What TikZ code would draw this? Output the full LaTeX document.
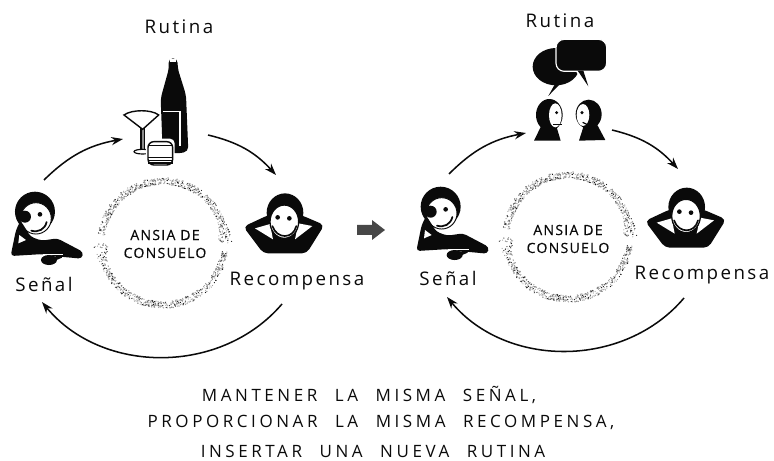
\documentclass[tikz,border=0pt]{standalone}
\usepackage{fontspec}
\setmainfont{Open Sans}
\newfontfamily\spaced[LetterSpace=13]{Open Sans}
\newfontfamily\spacedwide[LetterSpace=21,WordSpace=2.2]{Open Sans}
\newfontfamily\ringfont[LetterSpace=9,FakeBold=0.5]{Open Sans}
\usetikzlibrary{arrows.meta}
\definecolor{ink}{HTML}{0A0A0A}
\definecolor{grain}{HTML}{8C8C8C}

\tikzset{
  label/.style={font=\spaced\fontsize{16}{18}\selectfont,text=ink,inner sep=0pt},
  ringtext/.style={font=\ringfont\fontsize{12}{15.3}\selectfont,text=ink,inner sep=0pt,align=center},
  bottomtext/.style={font=\spacedwide\fontsize{14.5}{16}\selectfont,text=ink,inner sep=0pt},
  loopline/.style={draw=ink,line width=1.3pt,-{Stealth[length=10pt,width=7pt]}},
  sadperson/.pic={
    \fill[ink] (5,-15) ellipse (60 and 60);
    \fill[white,draw=ink,line width=0.8pt] (8,5) ellipse (46 and 47);
    \fill[ink] (-25,0) circle (18);
    \fill[ink] (20,-7) circle (7);
    \draw[ink,line width=1.5pt,line cap=round] (-6,42) .. controls (15,48) and (35,38) .. (40,16);
    \fill[ink,rounded corners=3pt] (-52,40) -- (-68,118) -- (30,112) -- (60,118) -- (146,126) -- (150,106) -- (72,65) -- (25,72) -- (-8,60) -- (-38,12) -- cycle;
    \fill[white] (-42,55) -- (-22,70) -- (-45,80) -- cycle;
    \draw[white,line width=1.2pt] (28,114) -- (90,114);
    \fill[ink] (47,130) ellipse (24 and 15);
    \fill[ink] (60,120) -- (86,116) -- (86,123) -- (60,134) -- cycle;
  },
  happyperson/.pic={
    \fill[ink,rounded corners=4pt] (-50,-5) -- (-125,30) -- (-65,110) -- (65,110) -- (118,25) -- (48,-5) -- cycle;
    \fill[ink] (0,-12) ellipse (55 and 58);
    \fill[white] (-90,35) -- (-45,22) -- (-36,68) -- cycle;
    \fill[white] (82,28) -- (40,20) -- (30,68) -- cycle;
    \fill[white,draw=ink,line width=1.1pt] (-2,15) ellipse (43 and 50);
    \fill[ink] (-22,2) circle (7);
    \fill[ink] (13,5) circle (7);
    \draw[ink,line width=1.4pt,line cap=round] (-38,28) .. controls (-24,68) and (24,68) .. (34,28);
  },
  drinks/.pic={
    \fill[ink,rounded corners=4pt] (505,175) -- (533,175) -- (533,205) -- (558,285) -- (565,455) -- (530,461) -- (488,455) -- (482,295) -- (507,205) -- cycle;
    \fill[white] (510,178) rectangle (528,186);
    \draw[white,line width=1pt] (490,335) -- (540,335) -- (540,438);
    \fill[white] (418,380) rectangle (443,470);
    \fill[grain] (423,385) rectangle (434,452);
    \draw[ink,line width=1.2pt,fill=white] (372,345) .. controls (395,328) and (455,328) .. (476,345) -- (428,388) -- cycle;
    \draw[ink,line width=1.2pt] (423,385) -- (423,452) (434,385) -- (434,452);
    \draw[ink,line width=1pt,fill=white] (428,455) ellipse (26 and 7);
    \fill[white,rounded corners=4pt] (438,416) rectangle (524,502);
    \draw[ink,line width=1.2pt,rounded corners=5pt] (444,425) rectangle (518,495);
    \draw[ink,line width=1.4pt] (444,436) -- (518,436) (444,472) -- (518,472) (444,481) -- (518,481) (444,489) -- (518,489);
  },
  talkers/.pic={
    \fill[ink] (468,200) ellipse (70 and 56);
    \fill[ink] (466,250) -- (445,288) -- (482,250) -- cycle;
    \fill[ink,rounded corners=7pt,draw=white,line width=1pt] (468,118) rectangle (620,214);
    \fill[ink] (533,212) -- (565,259) -- (550,212) -- cycle;
    \draw[white,line width=1pt] (531,216) -- (551,248);
    \fill[ink] (402,422) -- (425,375) -- (468,375) -- (482,422) -- cycle;
    \fill[ink] (448,345) ellipse (40 and 48);
    \fill[white] (466,346) ellipse (19 and 36);
    \fill[ink] (470,338) circle (5);
    \draw[ink,line width=1pt] (460,373) -- (486,373);
    \fill[ink] (537,422) -- (552,375) -- (592,375) -- (616,420) -- cycle;
    \fill[ink] (566,343) ellipse (39 and 44);
    \fill[white] (549,345) ellipse (19 and 33);
    \fill[ink] (546,338) circle (5);
    \draw[ink,line width=1pt] (548,367) -- (566,376);
  },
  ansiaring/.pic={
    \pgfmathsetseed{4127}
    \foreach \from/\to/\n in {187/360/620,8/180/580}{
      \foreach \k in {1,...,\n}{
        \pgfmathsetmacro{\ang}{\from+rnd*(\to-\from)}
        \pgfmathsetmacro{\band}{7+8*max(0,(\ang-\to+20)/20)}
        \pgfmathsetmacro{\rad}{62+\band*(rnd-0.5)}
        \pgfmathsetmacro{\tone}{rnd<0.3 ? 95 : 40}
        \fill[ink!\tone] (\ang:\rad) circle (0.6);
      }
    }
  }
}

\begin{document}
\begin{tikzpicture}[x=0.03cm,y=-0.03cm]
  \useasboundingbox (0,0) rectangle (774,461);

  % left loop
  \pic[scale=1/3] at (0,0) {drinks};
  \pic[scale=1/3] at (33.3,216.7) {sadperson};
  \pic[scale=1/3] at (285,216.7) {happyperson};
  \pic at (163,243) {ansiaring};
  \node[label] (rutinaa) at (179,27) {Rutina};
  \node[label] (senala) at (44,284) {Señal};
  \node[label] (recompensaa) at (297,281) {Recompensa};
  \node[ringtext] (ansiaa) at (165,244) {ANSIA DE\\CONSUELO};
  \coordinate (a1) at (44,180);
  \coordinate (a2) at (123,139);
  \coordinate (a3) at (208,135);
  \coordinate (a4) at (276,175);
  \coordinate (a5) at (282,304);
  \coordinate (a6) at (42,302);
  \draw[loopline] (a1) to[bend left=17] (a2);
  \draw[loopline] (a3) to[bend left=17] (a4);
  \draw[loopline] (a5) to[bend left=50] (a6);

  % right loop
  \pic[scale=1/3] at (400,0) {talkers};
  \pic[scale=1/3] at (439,211.7) {sadperson};
  \pic[scale=1/3] at (686.7,211) {happyperson};
  \pic at (568,237) {ansiaring};
  \node[label] (rutinab) at (560,21) {Rutina};
  \node[label] (senalb) at (448,278) {Señal};
  \node[label] (recompensab) at (702,275) {Recompensa};
  \node[ringtext] (ansiab) at (568,239) {ANSIA DE\\CONSUELO};
  \coordinate (b1) at (449,174);
  \coordinate (b2) at (526,133);
  \coordinate (b3) at (612,130);
  \coordinate (b4) at (678,169);
  \coordinate (b5) at (684,298);
  \coordinate (b6) at (447,297);
  \draw[loopline] (b1) to[bend left=17] (b2);
  \draw[loopline] (b3) to[bend left=17] (b4);
  \draw[loopline] (b5) to[bend left=50] (b6);

  % block arrow between the loops
  \fill[ink!75] (357,225) -- (372,225) -- (372,220) -- (385,230) -- (372,240) -- (372,235) -- (357,235) -- cycle;

  \node[bottomtext] (linea) at (369,395) {MANTENER LA MISMA SEÑAL,};
  \node[bottomtext] (lineb) at (381,422) {PROPORCIONAR LA MISMA RECOMPENSA,};
  \node[bottomtext] (linec) at (373,451) {INSERTAR UNA NUEVA RUTINA};
\end{tikzpicture}
\end{document}
